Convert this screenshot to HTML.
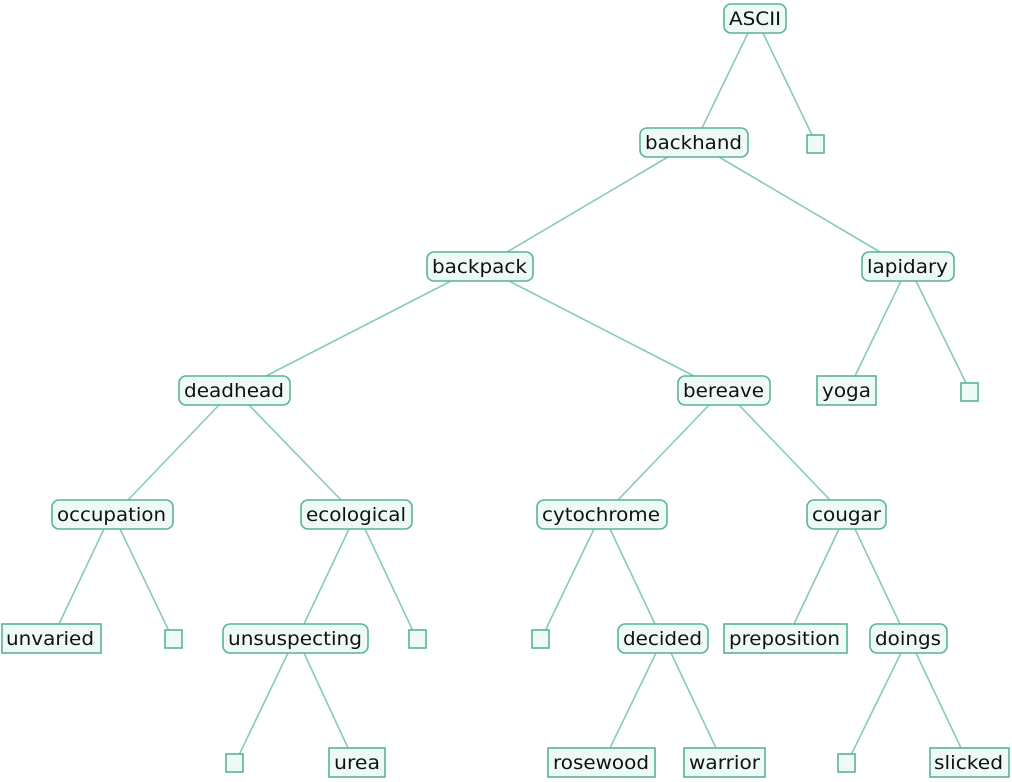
<!DOCTYPE html>
<html><head><meta charset="utf-8"><style>
html,body{margin:0;padding:0;background:#fff}
svg{display:block}
text{font-family:"DejaVu Sans","Liberation Sans",sans-serif;font-size:19px;fill:#111}
.n{fill:#eefaf5;stroke:#5ab394;stroke-width:1.6}
.e{stroke:#88cbb3;stroke-width:1.6;fill:none}
</style></head><body>
<svg width="1012" height="782" viewBox="0 0 1012 782" xmlns="http://www.w3.org/2000/svg">
<g class="e">
<line x1="748" y1="33" x2="702" y2="128"/>
<line x1="763" y1="33" x2="812" y2="135"/>
<line x1="668" y1="157" x2="507" y2="252"/>
<line x1="719" y1="157" x2="880" y2="252"/>
<line x1="451" y1="281" x2="266" y2="376"/>
<line x1="509" y1="281" x2="694" y2="376"/>
<line x1="901" y1="281" x2="855" y2="376"/>
<line x1="916" y1="281" x2="966" y2="383"/>
<line x1="219" y1="405" x2="128" y2="500"/>
<line x1="249" y1="405" x2="341" y2="500"/>
<line x1="709" y1="405" x2="618" y2="500"/>
<line x1="739" y1="405" x2="830" y2="500"/>
<line x1="104" y1="529" x2="59" y2="624"/>
<line x1="120" y1="529" x2="169" y2="631"/>
<line x1="349" y1="529" x2="304" y2="624"/>
<line x1="365" y1="529" x2="413" y2="631"/>
<line x1="594" y1="529" x2="545" y2="631"/>
<line x1="610" y1="529" x2="655" y2="624"/>
<line x1="839" y1="529" x2="794" y2="624"/>
<line x1="855" y1="529" x2="900" y2="624"/>
<line x1="288" y1="653" x2="239" y2="755"/>
<line x1="304" y1="653" x2="348" y2="748"/>
<line x1="656" y1="653" x2="610" y2="748"/>
<line x1="671" y1="653" x2="716" y2="748"/>
<line x1="901" y1="653" x2="851" y2="755"/>
<line x1="916" y1="653" x2="961" y2="748"/>
</g>
<g class="n">
<rect x="724" y="4" width="62" height="29" rx="7"/>
<rect x="640" y="128" width="108" height="29" rx="7"/>
<rect x="807" y="135" width="17" height="18"/>
<rect x="427" y="252" width="106" height="29" rx="7"/>
<rect x="862" y="252" width="92" height="29" rx="7"/>
<rect x="179" y="376" width="111" height="29" rx="7"/>
<rect x="678" y="376" width="92" height="29" rx="7"/>
<rect x="817" y="376" width="59" height="29"/>
<rect x="961" y="383" width="17" height="18"/>
<rect x="52" y="500" width="121" height="29" rx="7"/>
<rect x="301" y="500" width="111" height="29" rx="7"/>
<rect x="537" y="500" width="130" height="29" rx="7"/>
<rect x="807" y="500" width="79" height="29" rx="7"/>
<rect x="2" y="624" width="99" height="29"/>
<rect x="165" y="630" width="17" height="18"/>
<rect x="223" y="624" width="145" height="29" rx="7"/>
<rect x="409" y="630" width="17" height="18"/>
<rect x="532" y="630" width="17" height="18"/>
<rect x="618" y="624" width="90" height="29" rx="7"/>
<rect x="724" y="624" width="123" height="29"/>
<rect x="870" y="624" width="77" height="29" rx="7"/>
<rect x="226" y="754" width="17" height="18"/>
<rect x="329" y="748" width="56" height="29"/>
<rect x="548" y="748" width="107" height="29"/>
<rect x="684" y="748" width="81" height="29"/>
<rect x="838" y="754" width="17" height="18"/>
<rect x="930" y="748" width="79" height="29"/>
</g>
<g>
<text x="729" y="25" textLength="52" lengthAdjust="spacingAndGlyphs">ASCII</text>
<text x="645" y="149" textLength="97" lengthAdjust="spacingAndGlyphs">backhand</text>
<text x="432" y="273" textLength="95" lengthAdjust="spacingAndGlyphs">backpack</text>
<text x="867" y="273" textLength="81" lengthAdjust="spacingAndGlyphs">lapidary</text>
<text x="184" y="397" textLength="100" lengthAdjust="spacingAndGlyphs">deadhead</text>
<text x="683" y="397" textLength="81" lengthAdjust="spacingAndGlyphs">bereave</text>
<text x="822" y="397" textLength="49" lengthAdjust="spacingAndGlyphs">yoga</text>
<text x="57" y="521" textLength="109" lengthAdjust="spacingAndGlyphs">occupation</text>
<text x="306" y="521" textLength="100" lengthAdjust="spacingAndGlyphs">ecological</text>
<text x="542" y="521" textLength="118" lengthAdjust="spacingAndGlyphs">cytochrome</text>
<text x="812" y="521" textLength="69" lengthAdjust="spacingAndGlyphs">cougar</text>
<text x="6" y="645" textLength="88" lengthAdjust="spacingAndGlyphs">unvaried</text>
<text x="228" y="645" textLength="134" lengthAdjust="spacingAndGlyphs">unsuspecting</text>
<text x="623" y="645" textLength="79" lengthAdjust="spacingAndGlyphs">decided</text>
<text x="729" y="645" textLength="111" lengthAdjust="spacingAndGlyphs">preposition</text>
<text x="875" y="645" textLength="66" lengthAdjust="spacingAndGlyphs">doings</text>
<text x="334" y="769" textLength="46" lengthAdjust="spacingAndGlyphs">urea</text>
<text x="553" y="769" textLength="96" lengthAdjust="spacingAndGlyphs">rosewood</text>
<text x="689" y="769" textLength="71" lengthAdjust="spacingAndGlyphs">warrior</text>
<text x="934" y="769" textLength="69" lengthAdjust="spacingAndGlyphs">slicked</text>
</g>
</svg>
</body></html>
